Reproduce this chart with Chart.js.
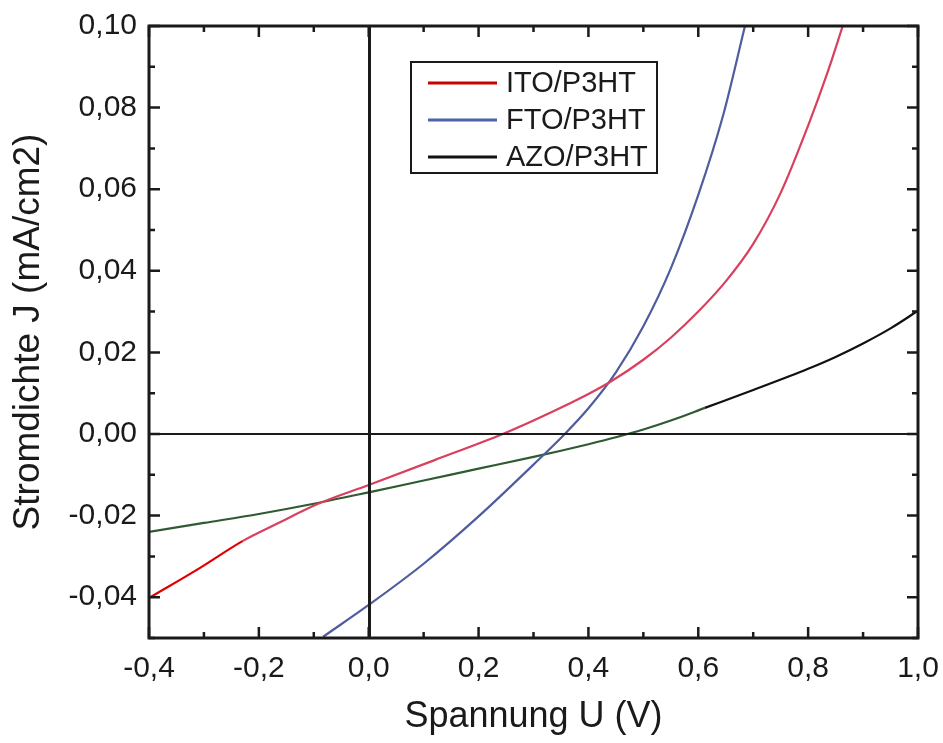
<!DOCTYPE html>
<html>
<head>
<meta charset="utf-8">
<script src="https://cdn.jsdelivr.net/npm/chart.js@4"></script>
<style>
  html, body { margin: 0; padding: 0; background: #fff; }
  canvas { display: block; }
</style>
</head>
<body>
<canvas id="jv" width="943" height="743"></canvas>
<script>
// J-V curves of the three transparent electrodes
const seriesNames = ['ITO/P3HT', 'FTO/P3HT', 'AZO/P3HT'];

const itoU = [-0.40, -0.307, -0.229, -0.17, -0.09, 0.00, 0.12, 0.244, 0.30, 0.34, 0.40, 0.44, 0.50, 0.55, 0.60, 0.65, 0.70, 0.75, 0.80, 0.835, 0.863];
const itoJ = [-0.0402, -0.0328, -0.0262, -0.0222, -0.0170, -0.0125, -0.0064, 0.0, 0.0033, 0.0058, 0.0098, 0.0128, 0.0182, 0.0236, 0.0300, 0.0374, 0.0466, 0.0591, 0.0756, 0.0885, 0.100];

const ftoU = [-0.083, 0.00, 0.10, 0.20, 0.30, 0.357, 0.40, 0.45, 0.50, 0.55, 0.60, 0.645, 0.685];
const ftoJ = [-0.0497, -0.0419, -0.0318, -0.0202, -0.0075, 0.0, 0.0063, 0.0151, 0.0264, 0.0406, 0.0586, 0.0780, 0.1000];

const azoU = [-0.40, -0.30, -0.20, -0.10, 0.00, 0.10, 0.20, 0.30, 0.35, 0.40, 0.45, 0.50, 0.55, 0.612, 0.70, 0.80, 0.85, 0.90, 0.95, 1.00];
const azoJ = [-0.0240, -0.0218, -0.0196, -0.0171, -0.0143, -0.0114, -0.0085, -0.0056, -0.0041, -0.0025, -0.0008, 0.0011, 0.0033, 0.0064, 0.0108, 0.0160, 0.0189, 0.0222, 0.0259, 0.0302];

const xTicks = [-0.4, -0.2, 0.0, 0.2, 0.4, 0.6, 0.8, 1.0];
const yTicks = [-0.04, -0.02, 0.00, 0.02, 0.04, 0.06, 0.08, 0.10];

const FONT = '"Liberation Sans", Arial, sans-serif';

function pts(us, js) {
    return us.map((u, i) => ({x: u, y: js[i]}));
}

function comma(v, digits) {
    return v.toFixed(digits).replace('.', ',').replace(/^-0,0+$/, m => m.slice(1));
}

// frame, inward ticks on all sides, zero lines and the legend box
const framePlugin = {
    id: 'frame',
    afterDatasetsDraw(chart) {
        const {ctx, chartArea: a, scales: {x, y}} = chart;
        ctx.save();
        ctx.strokeStyle = '#1a1a1a';

        // zero lines
        ctx.lineWidth = 3;
        const x0 = Math.round(x.getPixelForValue(0)) + 0.5;
        ctx.beginPath(); ctx.moveTo(x0, a.top); ctx.lineTo(x0, a.bottom); ctx.stroke();
        ctx.lineWidth = 2;
        const y0 = Math.round(y.getPixelForValue(0));
        ctx.beginPath(); ctx.moveTo(a.left, y0); ctx.lineTo(a.right, y0); ctx.stroke();

        // ticks
        ctx.lineWidth = 2.5;
        for (let i = -4; i <= 10; i++) {
            const px = x.getPixelForValue(i / 10);
            const len = i % 2 === 0 ? 11 : 6;
            ctx.beginPath();
            ctx.moveTo(px, a.bottom); ctx.lineTo(px, a.bottom - len);
            ctx.moveTo(px, a.top); ctx.lineTo(px, a.top + len);
            ctx.stroke();
        }
        for (let i = -5; i <= 10; i++) {
            const py = y.getPixelForValue(i / 100);
            const len = i % 2 === 0 ? 11 : 6;
            ctx.beginPath();
            ctx.moveTo(a.left, py); ctx.lineTo(a.left + len, py);
            ctx.moveTo(a.right, py); ctx.lineTo(a.right - len, py);
            ctx.stroke();
        }

        // frame
        ctx.lineWidth = 3;
        ctx.strokeRect(a.left, a.top, a.right - a.left, a.bottom - a.top);

        // legend
        const lx = 411, ly = 62, lw = 246, lh = 111;
        ctx.fillStyle = '#fff';
        ctx.fillRect(lx, ly, lw, lh);
        ctx.lineWidth = 2;
        ctx.strokeRect(lx, ly, lw, lh);
        const legendColors = ['#cc0000', '#4a64a6', '#111111'];
        ctx.font = '29px ' + FONT;
        ctx.textBaseline = 'middle';
        chart.data.datasets.forEach((ds, i) => {
            const ry = 83 + i * 37;
            ctx.strokeStyle = legendColors[i];
            ctx.lineWidth = 3;
            ctx.beginPath(); ctx.moveTo(428, ry); ctx.lineTo(497, ry); ctx.stroke();
            ctx.fillStyle = '#1a1a1a';
            ctx.fillText(ds.label, 506, ry + 1);
        });
        ctx.restore();
    }
};

new Chart(document.getElementById('jv'), {
    type: 'scatter',
    data: {
        datasets: [
            {
                label: seriesNames[0],
                data: pts(itoU, itoJ),
                borderColor: '#d8405e',
                segment: {borderColor: c => c.p0.parsed.x < -0.23 ? '#e00000' : '#d8405e'},
            },
            {
                label: seriesNames[1],
                data: pts(ftoU, ftoJ),
                borderColor: '#4f5c9e',
            },
            {
                label: seriesNames[2],
                data: pts(azoU, azoJ),
                borderColor: '#2f5a32',
                segment: {borderColor: c => c.p0.parsed.x < 0.611 ? '#2f5a32' : '#111111'},
            },
        ].map(ds => Object.assign(ds, {
            showLine: true,
            pointRadius: 0,
            borderWidth: 2.2,
            cubicInterpolationMode: 'monotone',
        })),
    },
    options: {
        responsive: false,
        animation: false,
        layout: {padding: {top: 26, right: 25, left: 0, bottom: 0}},
        plugins: {legend: {display: false}, tooltip: {enabled: false}},
        scales: {
            x: {
                type: 'linear',
                min: -0.4,
                max: 1.0,
                afterFit: s => { s.height = 105; s.paddingLeft = 0; s.paddingRight = 0; },
                afterBuildTicks: s => { s.ticks = xTicks.map(v => ({value: v})); },
                grid: {display: false, drawTicks: false},
                border: {display: false},
                ticks: {
                    padding: 13,
                    color: '#1a1a1a',
                    font: {family: FONT, size: 30},
                    callback: v => comma(v, 1),
                },
                title: {
                    display: true,
                    text: 'Spannung U (V)',
                    color: '#1a1a1a',
                    font: {family: FONT, size: 36},
                    padding: {top: 0, bottom: 4},
                },
            },
            y: {
                type: 'linear',
                min: -0.05,
                max: 0.10,
                afterFit: s => { s.width = 149; s.paddingTop = 0; s.paddingBottom = 0; },
                afterBuildTicks: s => { s.ticks = yTicks.map(v => ({value: v})); },
                grid: {display: false, drawTicks: false},
                border: {display: false},
                ticks: {
                    padding: 12,
                    color: '#1a1a1a',
                    font: {family: FONT, size: 30},
                    callback: v => comma(v, 2),
                },
                title: {
                    display: true,
                    text: 'Stromdichte J (mA/cm2)',
                    color: '#1a1a1a',
                    font: {family: FONT, size: 37},
                    padding: {top: 7, bottom: 0},
                },
            },
        },
    },
    plugins: [framePlugin],
});
</script>
</body>
</html>
